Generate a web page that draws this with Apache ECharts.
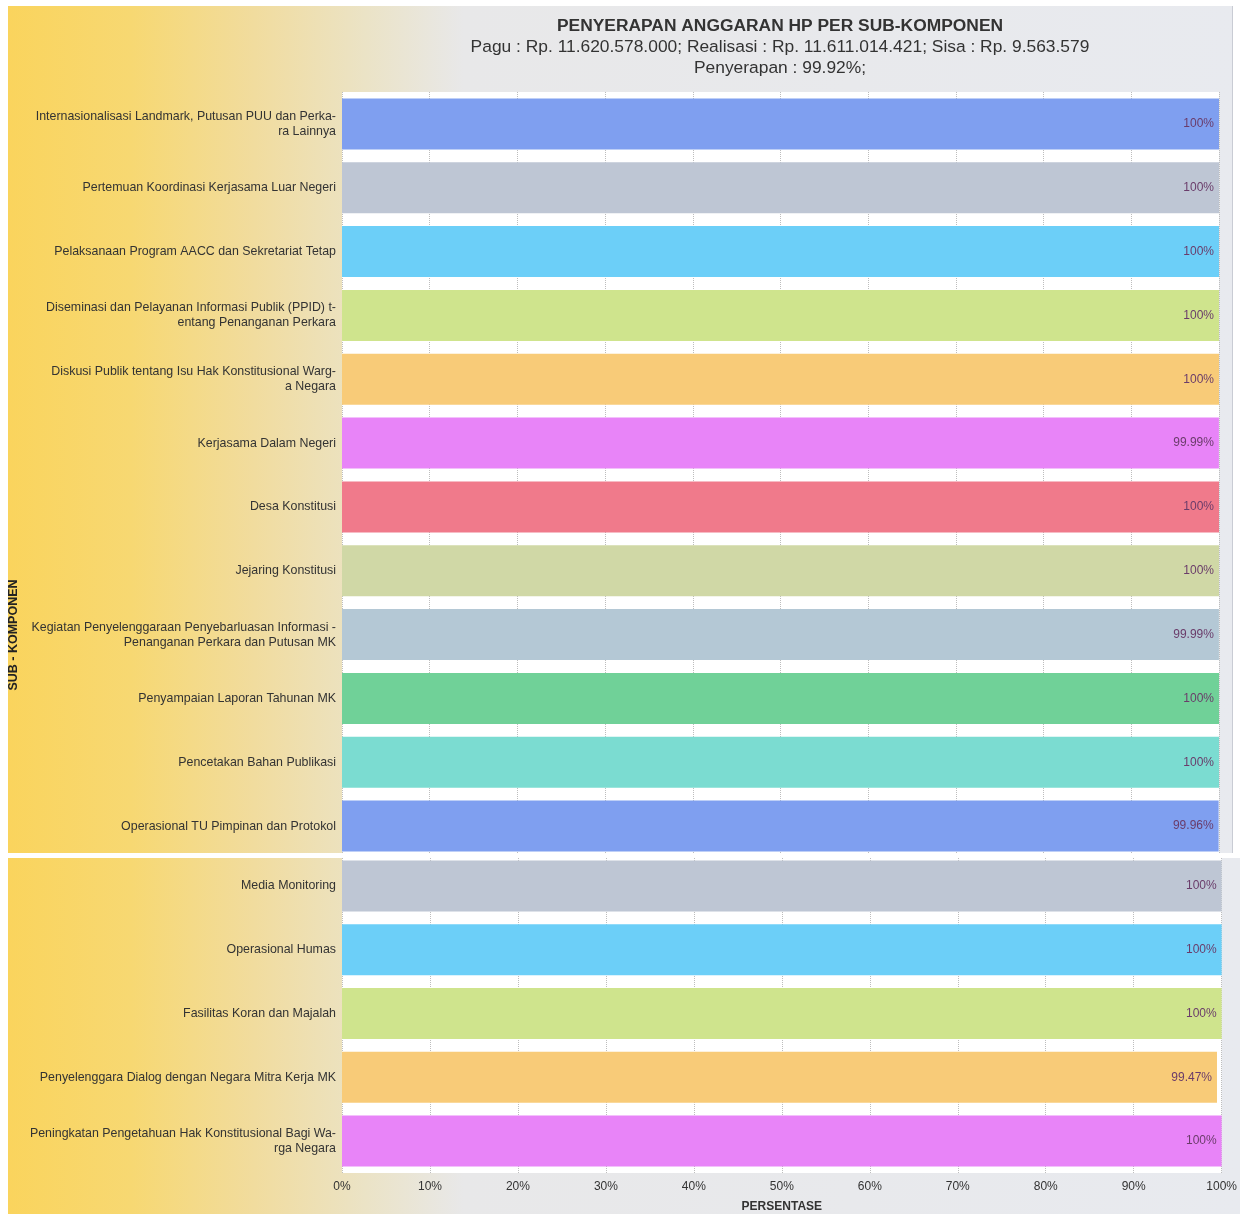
<!DOCTYPE html>
<html lang="id">
<head>
    <meta charset="utf-8">
    <script src="https://cdn.jsdelivr.net/npm/echarts@6/dist/echarts.min.js"></script>
    <style>
        html, body { margin: 0; padding: 0; background: #fff; }
        #container {
            position: absolute; left: 8px; top: 6px; width: 1232px; height: 1208px;
            background: linear-gradient(to right, #fad45d 0%, #f7d872 10%, #f1dc9e 20%, #ebe3c6 29%, #e8e8e9 37%, #e8eaef 100%);
        }
    </style>
</head>
<body>
<div id="container"></div>
<script type="text/javascript">
    // sub-komponen (urutan dari atas)
    var categories = [
        'Internasionalisasi Landmark, Putusan PUU dan Perka-\nra Lainnya',
        'Pertemuan Koordinasi Kerjasama Luar Negeri',
        'Pelaksanaan Program AACC dan Sekretariat Tetap',
        'Diseminasi dan Pelayanan Informasi Publik (PPID) t-\nentang Penanganan Perkara',
        'Diskusi Publik tentang Isu Hak Konstitusional Warg-\na Negara',
        'Kerjasama Dalam Negeri',
        'Desa Konstitusi',
        'Jejaring Konstitusi',
        'Kegiatan Penyelenggaraan Penyebarluasan Informasi -\nPenanganan Perkara dan Putusan MK',
        'Penyampaian Laporan Tahunan MK',
        'Pencetakan Bahan Publikasi',
        'Operasional TU Pimpinan dan Protokol',
        'Media Monitoring',
        'Operasional Humas',
        'Fasilitas Koran dan Majalah',
        'Penyelenggara Dialog dengan Negara Mitra Kerja MK',
        'Peningkatan Pengetahuan Hak Konstitusional Bagi Wa-\nrga Negara'
    ];
    var persentase = [100, 100, 100, 100, 100, 99.99, 100, 100, 99.99, 100, 100, 99.96, 100, 100, 100, 99.47, 100];
    var palette = ['#7f9ff0', '#bec6d4', '#6ccff8', '#cfe48d', '#f8cb78', '#e884f8', '#f07a8b', '#d0d8a6', '#b4c8d5', '#70d198', '#7bdcd1'];
    var xTicks = [0, 10, 20, 30, 40, 50, 60, 70, 80, 90, 100];
    var splitAt = 12; // potongan screenshot

    var font = '"Liberation Sans", Arial, sans-serif';
    var myChart = echarts.init(document.getElementById('container'));

    function barData(from, to) {
        var out = [];
        for (var i = from; i < to; i++) {
            out.push({value: persentase[i], itemStyle: {color: palette[i % palette.length]}});
        }
        return out;
    }

    function xAxis(idx, showLabel) {
        return {
            type: 'value', gridIndex: idx,
            min: xTicks[0], max: xTicks[xTicks.length - 1], interval: xTicks[1] - xTicks[0],
            axisLine: {show: false}, axisTick: {show: false},
            axisLabel: {show: showLabel, formatter: '{value}%', color: '#333', fontSize: 12, fontFamily: font, margin: 8},
            splitLine: {show: true, lineStyle: {type: 'dotted', color: '#bdbdbd', width: 1}},
            name: showLabel ? 'PERSENTASE' : '', nameLocation: 'middle', nameGap: 28,
            nameTextStyle: {fontWeight: 'bold', fontSize: 12, color: '#333', fontFamily: font}
        };
    }

    function yAxis(idx, cats) {
        return {
            type: 'category', gridIndex: idx, inverse: true, data: cats,
            axisLine: {show: false}, axisTick: {show: false},
            axisLabel: {color: '#333', fontSize: 12.4, lineHeight: 15, fontFamily: font, margin: 6}
        };
    }

    function series(idx, from, to) {
        return {
            type: 'bar', xAxisIndex: idx, yAxisIndex: idx,
            barCategoryGap: '20%',
            data: barData(from, to),
            label: {
                show: true, position: 'insideRight', distance: 5,
                formatter: function (p) { return p.value + '%'; },
                color: '#6a3c6a', fontSize: 12, fontFamily: font
            }
        };
    }

    option = {
        animation: false,
        textStyle: {fontFamily: font},
        title: {
            left: 767, top: 4, textAlign: 'center', itemGap: 0,
            text: 'PENYERAPAN ANGGARAN HP PER SUB-KOMPONEN',
            subtext: 'Pagu : Rp. 11.620.578.000; Realisasi : Rp. 11.611.014.421; Sisa : Rp. 9.563.579\nPenyerapan : 99.92%;',
            textStyle: {fontSize: 17.4, fontWeight: 'bold', color: '#333', lineHeight: 22, fontFamily: font},
            subtextStyle: {fontSize: 17.4, color: '#333', lineHeight: 21, fontFamily: font}
        },
        grid: [
            {left: 334, top: 86, width: 877, height: 766, show: true, backgroundColor: '#fff', borderWidth: 0, containLabel: false},
            {left: 334, top: 848, width: 880, height: 319, show: true, backgroundColor: '#fff', borderWidth: 0, containLabel: false}
        ],
        xAxis: [xAxis(0, false), xAxis(1, true)],
        yAxis: [yAxis(0, categories.slice(0, splitAt)), yAxis(1, categories.slice(splitAt))],
        series: [series(0, 0, splitAt), series(1, splitAt, categories.length)],
        graphic: [
            // sambungan dua screenshot
            {type: 'rect', z: 100, shape: {x: 0, y: 847, width: 1232, height: 5}, style: {fill: '#fff'}},
            {type: 'rect', z: 100, shape: {x: 1225, y: 0, width: 7, height: 847}, style: {fill: '#fff'}},
            {type: 'rect', z: 100, shape: {x: 1224, y: 0, width: 1, height: 847}, style: {fill: '#c9ccd4'}},
            {
                type: 'text', z: 100, x: 6, y: 629, rotation: Math.PI / 2,
                style: {text: 'SUB - KOMPONEN', x: 0, y: 0, align: 'center', verticalAlign: 'middle',
                    fill: '#222', font: 'bold 12.5px ' + font}
            }
        ]
    };

    myChart.setOption(option);
</script>
</body>
</html>
